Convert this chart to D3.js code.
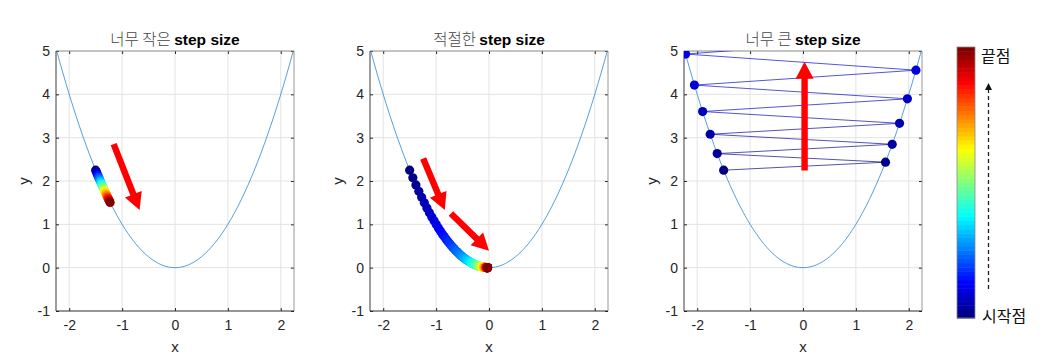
<!DOCTYPE html>
<html><head><meta charset="utf-8">
<script src="https://cdn.jsdelivr.net/npm/d3@7"></script>
<style>body{margin:0;background:#fff}svg{display:block}</style>
</head><body>
<svg id="chart" width="1063" height="360"></svg>
<script>
// ---- data ----
const xTicks = [-2, -1, 0, 1, 2];
const yTicks = [-1, 0, 1, 2, 3, 4, 5];
const titlesKo = ["너무 작은", "적절한", "너무 큰"];
const titleEn = "step size";
const colorbarLabels = ["끝점", "시작점"];

const curveX = [-2.25,-2.125,-2,-1.875,-1.75,-1.625,-1.5,-1.375,-1.25,-1.125,-1,-0.875,-0.75,-0.625,-0.5,-0.375,-0.25,-0.125,0,
  0.125,0.25,0.375,0.5,0.625,0.75,0.875,1,1.125,1.25,1.375,1.5,1.625,1.75,1.875,2,2.125,2.25];
const curveY = [5.0625,4.5156,4,3.5156,3.0625,2.6406,2.25,1.8906,1.5625,1.2656,1,0.7656,0.5625,0.3906,0.25,0.1406,0.0625,0.0156,0,
  0.0156,0.0625,0.1406,0.25,0.3906,0.5625,0.7656,1,1.2656,1.5625,1.8906,2.25,2.6406,3.0625,3.5156,4,4.5156,5.0625];

// small step size path
const smallX = [-1.5,-1.485,-1.470,-1.455,-1.441,-1.426,-1.412,-1.398,-1.384,-1.370,-1.357,-1.343,-1.330,-1.316,-1.303,-1.290,-1.277,-1.264,-1.252,-1.239,-1.227];
const smallY = [2.250,2.205,2.161,2.118,2.076,2.035,1.994,1.955,1.916,1.878,1.840,1.804,1.768,1.733,1.698,1.664,1.631,1.599,1.567,1.536,1.505];

// appropriate step size path
const goodX = [-1.500,-1.440,-1.382,-1.327,-1.274,-1.223,-1.174,-1.127,-1.082,-1.039,
  -0.997,-0.957,-0.919,-0.882,-0.847,-0.813,-0.781,-0.749,-0.719,-0.691,
  -0.663,-0.636,-0.611,-0.587,-0.563,-0.541,-0.519,-0.498,-0.478,-0.459,
  -0.441,-0.423,-0.406,-0.390,-0.374,-0.359,-0.345,-0.331,-0.318,-0.305,
  -0.293,-0.281,-0.270,-0.259,-0.249,-0.239,-0.229,-0.220,-0.211,-0.203,
  -0.195,-0.187,-0.180,-0.172,-0.165,-0.159,-0.153,-0.146,-0.141,-0.135,
  -0.130,-0.124,-0.119,-0.115,-0.110,-0.106,-0.101,-0.097,-0.093,-0.090,
  -0.086,-0.083,-0.079,-0.076,-0.073,-0.070,-0.067,-0.065,-0.062,-0.060,
  -0.057,-0.055,-0.053,-0.051,-0.049,-0.047,-0.045,-0.043,-0.041,-0.040,
  -0.038,-0.037,-0.035,-0.034,-0.032,-0.031,-0.030,-0.029,-0.027,-0.026,-0.025];
const goodY = [2.250,2.074,1.910,1.761,1.623,1.496,1.378,1.270,1.171,1.080,
  0.994,0.916,0.845,0.778,0.717,0.661,0.610,0.561,0.517,0.477,
  0.440,0.404,0.373,0.345,0.317,0.293,0.269,0.248,0.228,0.211,
  0.194,0.179,0.165,0.152,0.140,0.129,0.119,0.110,0.101,0.093,
  0.086,0.079,0.073,0.067,0.062,0.057,0.052,0.048,0.045,0.041,
  0.038,0.035,0.032,0.030,0.027,0.025,0.023,0.021,0.020,0.018,
  0.017,0.015,0.014,0.013,0.012,0.011,0.010,0.009,0.009,0.008,
  0.007,0.007,0.006,0.006,0.005,0.005,0.004,0.004,0.004,0.004,
  0.003,0.003,0.003,0.003,0.002,0.002,0.002,0.002,0.002,0.002,
  0.001,0.001,0.001,0.001,0.001,0.001,0.001,0.001,0.001,0.001,0.001];

// too large step size path
const bigX = [-1.500,1.560,-1.622,1.687,-1.755,1.825,-1.898,1.974,-2.053,2.135,-2.220,2.309];
const bigY = [2.250,2.434,2.632,2.847,3.079,3.331,3.603,3.896,4.213,4.557,4.930,5.331];

// red arrows [x0, y0, x1, y1] in data units
const arrowsSmall = [[-1.16, 2.85, -0.67, 1.33]];
const arrowsGood = [[-1.245, 2.52, -0.836, 1.33], [-0.72, 1.25, 0.0, 0.39]];
const arrowsBig = [[0.03, 2.24, 0.03, 4.75]];

// ---- helpers ----
function jet(t) {
  const c = v => Math.max(0, Math.min(1, v));
  const r = c(1.5 - Math.abs(4 * t - 3)), g = c(1.5 - Math.abs(4 * t - 2)), b = c(1.5 - Math.abs(4 * t - 1));
  return d3.rgb(r * 255, g * 255, b * 255).toString();
}

const svg = d3.select("#chart");
const pTop = 51, pBot = 311, pw = 238;
const lefts = [56, 370, 684];
const tickFont = "'Liberation Sans', Arial, sans-serif";
const koFont = "'Noto Sans CJK KR', 'Noto Sans', sans-serif";
const axisCol = "#262626";

const panels = [
  { xs: smallX, ys: smallY, nMax: 20, arrows: arrowsSmall, line: false },
  { xs: goodX, ys: goodY, nMax: 100, arrows: arrowsGood, line: false },
  { xs: bigX, ys: bigY, nMax: 100, arrows: arrowsBig, line: true }
];

panels.forEach((p, i) => {
  const L = lefts[i];
  const x = d3.scaleLinear().domain([-2.25, 2.25]).range([L, L + pw]);
  const y = d3.scaleLinear().domain([-1, 5]).range([pBot, pTop]);
  const g = svg.append("g");

  const clipId = "clip" + i;
  svg.append("clipPath").attr("id", clipId).append("rect")
    .attr("x", L).attr("y", pTop).attr("width", pw).attr("height", pBot - pTop);

  // grid
  g.append("g").selectAll("line").data(xTicks).join("line")
    .attr("x1", d => x(d)).attr("x2", d => x(d)).attr("y1", pTop).attr("y2", pBot)
    .attr("stroke", "#e3e3e3").attr("stroke-width", 1);
  g.append("g").selectAll("line").data(yTicks).join("line")
    .attr("y1", d => y(d)).attr("y2", d => y(d)).attr("x1", L).attr("x2", L + pw)
    .attr("stroke", "#e3e3e3").attr("stroke-width", 1);

  // axes
  const fmt = d => String(d);
  const ax = g.append("g").attr("transform", `translate(0,${pBot})`)
    .call(d3.axisBottom(x).tickValues(xTicks).tickSize(-3).tickPadding(9).tickFormat(fmt));
  const ay = g.append("g").attr("transform", `translate(${L},0)`)
    .call(d3.axisLeft(y).tickValues(yTicks).tickSize(-3).tickPadding(6).tickFormat(fmt));
  const axT = g.append("g").attr("transform", `translate(0,${pTop})`)
    .call(d3.axisTop(x).tickValues(xTicks).tickSize(-3).tickFormat(""));
  const ayR = g.append("g").attr("transform", `translate(${L + pw},0)`)
    .call(d3.axisRight(y).tickValues(yTicks).tickSize(-3).tickFormat(""));
  [ax, ay, axT, ayR].forEach(a => {
    a.select(".domain").remove();
    a.selectAll("line").attr("stroke", axisCol);
    a.selectAll("text").attr("fill", axisCol).style("font-family", tickFont).style("font-size", "14px");
  });
  // box: left/bottom dark, top/right lighter
  g.append("line").attr("x1", L).attr("x2", L + pw).attr("y1", pTop).attr("y2", pTop)
    .attr("stroke", "#8c8c8c").attr("stroke-width", 0.9);
  g.append("line").attr("x1", L + pw).attr("x2", L + pw).attr("y1", pTop).attr("y2", pBot)
    .attr("stroke", "#8c8c8c").attr("stroke-width", 0.9);
  g.append("line").attr("x1", L).attr("x2", L).attr("y1", pTop).attr("y2", pBot)
    .attr("stroke", axisCol).attr("stroke-width", 0.9);
  g.append("line").attr("x1", L).attr("x2", L + pw).attr("y1", pBot).attr("y2", pBot)
    .attr("stroke", axisCol).attr("stroke-width", 0.9);

  // curve
  const curve = d3.line().x((d, k) => x(curveX[k])).y((d, k) => y(curveY[k])).curve(d3.curveNatural);
  g.append("path").datum(curveX).attr("d", curve).attr("fill", "none")
    .attr("stroke", "#2d86d2").attr("stroke-width", 0.8).attr("clip-path", `url(#${clipId})`);

  const col = d3.scaleLinear().domain([0, p.nMax]).range([0, 1]);
  const idx = d3.range(p.xs.length);

  if (p.line) {
    g.append("g").attr("clip-path", `url(#${clipId})`).selectAll("line").data(idx.slice(0, -1)).join("line")
      .attr("x1", k => x(p.xs[k])).attr("y1", k => y(p.ys[k]))
      .attr("x2", k => x(p.xs[k + 1])).attr("y2", k => y(p.ys[k + 1]))
      .attr("stroke", k => jet(col(k))).attr("stroke-width", 0.8).attr("stroke-opacity", 0.85);
  }
  g.append("g").attr("clip-path", `url(#${clipId})`).selectAll("circle").data(idx).join("circle")
    .attr("cx", k => x(p.xs[k])).attr("cy", k => y(p.ys[k])).attr("r", 4.6)
    .attr("fill", k => jet(col(k)));

  // red arrows
  p.arrows.forEach(a => {
    const x0 = x(a[0]), y0 = y(a[1]), x1 = x(a[2]), y1 = y(a[3]);
    const dx = x1 - x0, dy = y1 - y0, len = Math.hypot(dx, dy);
    const ux = dx / len, uy = dy / len, nx = -uy, ny = ux;
    const sw = 3.2, hw = 9, hl = 17;
    const bx = x1 - ux * hl, by = y1 - uy * hl;
    const pts = [
      [x0 + nx * sw, y0 + ny * sw], [bx + nx * sw, by + ny * sw], [bx + nx * hw, by + ny * hw],
      [x1, y1], [bx - nx * hw, by - ny * hw], [bx - nx * sw, by - ny * sw], [x0 - nx * sw, y0 - ny * sw]
    ];
    g.append("polygon").attr("points", pts.map(q => q.join(",")).join(" ")).attr("fill", "#ff0000");
  });

  // title
  const t = g.append("text").attr("x", L + pw / 2).attr("y", 45).attr("text-anchor", "middle")
    .style("font-size", "15.5px");
  t.append("tspan").text(titlesKo[i] + " ").style("font-family", koFont).attr("fill", "#444").style("font-weight", 300);
  t.append("tspan").text(titleEn).style("font-family", tickFont).style("font-weight", "bold").attr("fill", "#000");

  // axis labels
  g.append("text").attr("x", L + pw / 2).attr("y", 352).attr("text-anchor", "middle")
    .style("font-family", tickFont).style("font-size", "15px").attr("fill", axisCol).text("x");
  g.append("text").attr("transform", `translate(${L - 27},${(pTop + pBot) / 2}) rotate(-90)`)
    .attr("text-anchor", "middle").style("font-family", tickFont).style("font-size", "15px")
    .attr("fill", axisCol).text("y");
});

// colorbar
const cbX = 957, cbW = 18, cbTop = 47, cbBot = 318;
const nCol = 64;
const cb = d3.scaleBand().domain(d3.range(nCol)).range([cbBot, cbTop]);
svg.append("g").selectAll("rect").data(d3.range(nCol)).join("rect")
  .attr("x", cbX).attr("y", d => cb(d)).attr("width", cbW).attr("height", cb.bandwidth() + 0.5)
  .attr("fill", d => jet(d / (nCol - 1)));
svg.append("rect").attr("x", cbX).attr("y", cbTop).attr("width", cbW).attr("height", cbBot - cbTop)
  .attr("fill", "none").attr("stroke", "#8a8a8a").attr("stroke-width", 0.8);
svg.append("text").attr("x", 981).attr("y", 62).style("font-family", koFont).style("font-size", "16px")
  .attr("fill", "#111").text(colorbarLabels[0]);
svg.append("text").attr("x", 982).attr("y", 322).style("font-family", koFont).style("font-size", "16px")
  .attr("fill", "#111").text(colorbarLabels[1]);
svg.append("line").attr("x1", 988.5).attr("x2", 988.5).attr("y1", 289).attr("y2", 89)
  .attr("stroke", "#222").attr("stroke-width", 1.3).attr("stroke-dasharray", "4,3");
svg.append("polygon").attr("points", "985,90 992,90 988.5,83").attr("fill", "#111");
</script>
</body></html>
